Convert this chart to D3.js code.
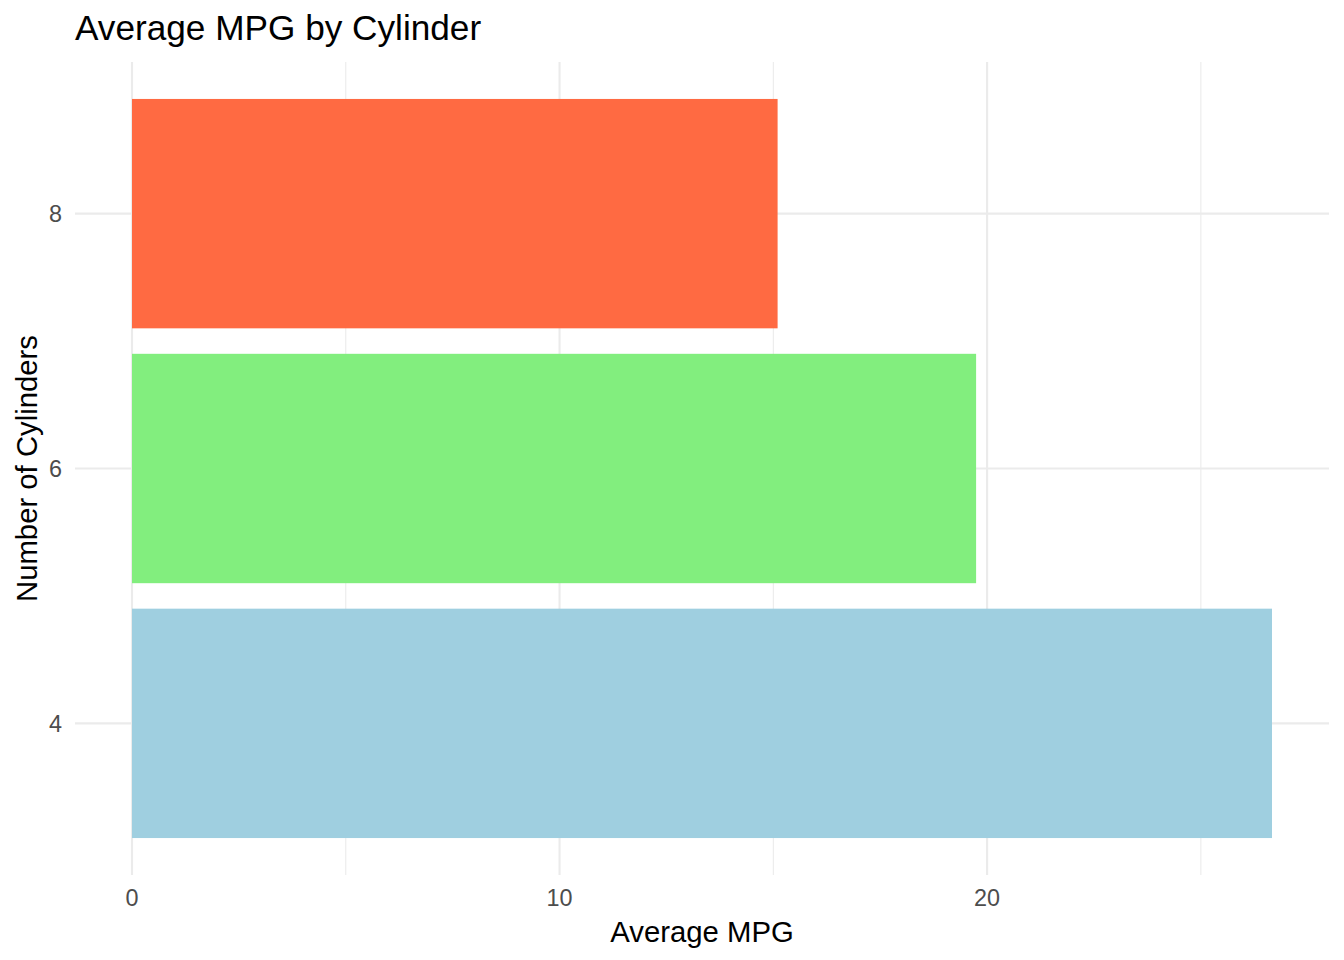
<!DOCTYPE html>
<html><head><meta charset="utf-8">
<script src="https://cdn.jsdelivr.net/npm/d3@7"></script>
<style>body{margin:0;background:#fff;} svg{display:block;font-family:"Liberation Sans",Arial,sans-serif;}</style>
</head><body><svg id="c" width="1344" height="960"></svg>
<script>
const cylinders = [4, 6, 8];
const avgMpg = [26.66364, 19.74286, 15.1];
const barColors = ["#9FCFE0", "#82EE7E", "#FF6A42"];
const xTicks = [0, 10, 20];
const xMinor = [5, 15, 25];
const yTicks = [4, 6, 8];

const svg = d3.select("#c");
const L = 75, R = 1329, T = 62, B = 875;
const barW = 1.8;
const yMin = d3.min(cylinders) - barW/2, yMax = d3.max(cylinders) + barW/2;
const yPad = (yMax - yMin) * 0.05;
const xMax = d3.max(avgMpg);
const x = d3.scaleLinear().domain([-xMax*0.05, xMax*1.05]).range([L, R]);
const y = d3.scaleLinear().domain([yMin - yPad, yMax + yPad]).range([B, T]);

const g = svg.append("g");
// grid
g.selectAll(".xminor").data(xMinor).join("line")
  .attr("x1", d=>x(d)).attr("x2", d=>x(d)).attr("y1", T).attr("y2", B)
  .attr("stroke", "#EBEBEB").attr("stroke-width", 1.1);
g.selectAll(".xmajor").data(xTicks).join("line")
  .attr("x1", d=>x(d)).attr("x2", d=>x(d)).attr("y1", T).attr("y2", B)
  .attr("stroke", "#EBEBEB").attr("stroke-width", 2.1);
g.selectAll(".ymajor").data(yTicks).join("line")
  .attr("x1", L).attr("x2", R).attr("y1", d=>y(d)).attr("y2", d=>y(d))
  .attr("stroke", "#EBEBEB").attr("stroke-width", 2.1);

// bars
const data = cylinders.map((c,i)=>({c, v: avgMpg[i], col: barColors[i]}));
g.selectAll(".bar").data(data).join("rect")
  .attr("x", x(0)).attr("width", d=>x(d.v)-x(0))
  .attr("y", d=>y(d.c + barW/2)).attr("height", d=>y(d.c - barW/2)-y(d.c + barW/2))
  .attr("fill", d=>d.col);

// tick labels
g.selectAll(".xl").data(xTicks).join("text")
  .attr("x", d=>x(d)).attr("y", 906).attr("text-anchor","middle")
  .attr("font-size", 23.4).attr("fill", "#4D4D4D").text(d=>d);
g.selectAll(".yl").data(yTicks).join("text")
  .attr("x", 62).attr("y", d=>y(d)).attr("dy","0.36em").attr("text-anchor","end")
  .attr("font-size", 23.4).attr("fill", "#4D4D4D").text(d=>d);

// titles
svg.append("text").attr("x", (L+R)/2).attr("y", 942).attr("text-anchor","middle")
  .attr("font-size", 29.3).attr("fill","#000").text("Average MPG");
svg.append("text").attr("transform", `translate(37,${(T+B)/2}) rotate(-90)`)
  .attr("text-anchor","middle").attr("font-size", 29.3).attr("fill","#000").text("Number of Cylinders");
svg.append("text").attr("x", 75).attr("y", 40)
  .attr("font-size", 35.2).attr("fill","#000").text("Average MPG by Cylinder");
</script></body></html>
